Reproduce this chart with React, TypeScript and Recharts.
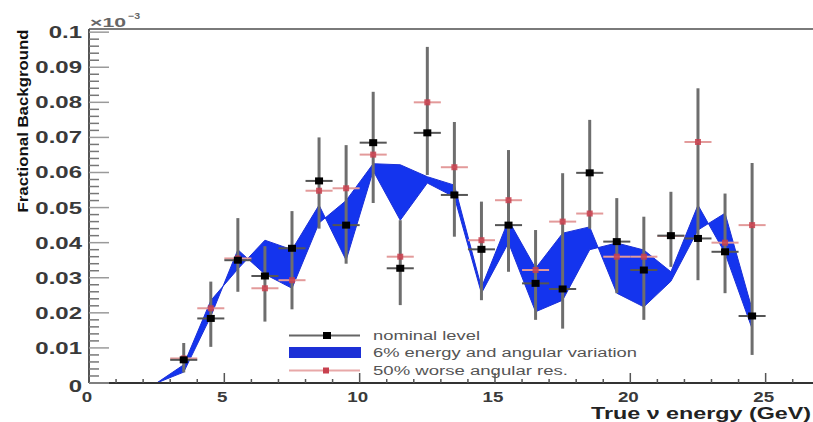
import React from 'react';
import { ComposedChart, Area, Scatter, XAxis, YAxis, ErrorBar, ReferenceLine } from 'recharts';

// ---- data ----
const binCenters = [3.5, 4.5, 5.5, 6.5, 7.5, 8.5, 9.5, 10.5, 11.5, 12.5, 13.5, 14.5, 15.5, 16.5, 17.5, 18.5, 19.5, 20.5, 21.5, 22.5, 23.5, 24.5];
const nominalLevel = [0.0066, 0.0184, 0.035, 0.0305, 0.0384, 0.0576, 0.045, 0.0685, 0.0327, 0.0713, 0.0536, 0.0381, 0.045, 0.0284, 0.0268, 0.0599, 0.0403, 0.0322, 0.042, 0.0412, 0.0374, 0.0191];
const nominalBarLow = [0.003, 0.0103, 0.026, 0.0175, 0.021, 0.044, 0.034, 0.0513, 0.0222, 0.0593, 0.0417, 0.0236, 0.0317, 0.018, 0.0155, 0.044, 0.0256, 0.018, 0.0331, 0.0293, 0.0256, 0.008];
const nominalBarHigh = [0.0114, 0.0289, 0.047, 0.039, 0.049, 0.07, 0.0678, 0.083, 0.0464, 0.0958, 0.0744, 0.0517, 0.0664, 0.0436, 0.0598, 0.075, 0.0527, 0.0474, 0.0545, 0.084, 0.054, 0.0627];
const worseAngularRes = [0.007, 0.0213, 0.0355, 0.027, 0.0293, 0.0548, 0.0555, 0.0651, 0.036, 0.08, 0.0615, 0.0407, 0.0521, 0.0322, 0.046, 0.0483, 0.036, 0.036, 0.0419, 0.0687, 0.04, 0.045];
const bandEnergies = [2.5, 3.5, 4.5, 5.5, 6.5, 7.5, 8.5, 9.5, 10.5, 11.5, 12.5, 13.5, 14.5, 15.5, 16.5, 17.5, 18.5, 19.5, 20.5, 21.5, 22.5, 23.5, 24.5];
const variationA = [0, 0.0031, 0.019, 0.038, 0.031, 0.027, 0.0456, 0.052, 0.0625, 0.0622, 0.0588, 0.0564, 0.0272, 0.0464, 0.0327, 0.0427, 0.0445, 0.0256, 0.0217, 0.029, 0.0436, 0.0484, 0.021];
const variationB = [0, 0.0052, 0.0235, 0.0325, 0.0407, 0.038, 0.0507, 0.035, 0.0605, 0.0464, 0.057, 0.053, 0.0256, 0.04, 0.0203, 0.0236, 0.038, 0.0399, 0.0379, 0.0317, 0.0507, 0.037, 0.0155];
const binHalfWidth = 0.5;

const yMajorTicks = [0, 0.01, 0.02, 0.03, 0.04, 0.05, 0.06, 0.07, 0.08, 0.09, 0.1];
const yTickLabels = ['0', '0.01', '0.02', '0.03', '0.04', '0.05', '0.06', '0.07', '0.08', '0.09', '0.1'];
const xMajorTicks = [0, 5, 10, 15, 20, 25];
const xTickLabels = ['0', '5', '10', '15', '20', '25'];
const Y_MAX = 0.1009;
const X_MAX = 26.75;

// ---- derived tables ----
const bandData = bandEnergies.map((x, i) => ({ x, band: [variationA[i], variationB[i]] }));
const nominalData = binCenters.map((x, i) => ({
  x,
  y: nominalLevel[i],
  ey: [nominalLevel[i] - nominalBarLow[i], nominalBarHigh[i] - nominalLevel[i]],
  ex: binHalfWidth,
}));
const worseData = binCenters.map((x, i) => ({ x, y: worseAngularRes[i], ex: binHalfWidth }));

const yAllTicks: number[] = [];
yMajorTicks.forEach((t, i) => {
  if (i < yMajorTicks.length - 1) {
    for (let k = 0; k < 5; k++) yAllTicks.push(+(t + k * 0.002).toFixed(4));
  } else yAllTicks.push(t);
});
const xAllTicks: number[] = [];
for (let v = 0; v <= 26; v++) xAllTicks.push(v);

const FONT = "'Liberation Sans', Arial, sans-serif";

const YTick = (props: any) => {
  const { x, y, payload } = props;
  const idx = yMajorTicks.findIndex((t) => Math.abs(t - payload.value) < 1e-6);
  const major = idx >= 0;
  return (
    <g>
      <line x1={x} x2={x + (major ? 20 : 10)} y1={y} y2={y} stroke={major ? '#9a9a9a' : '#777'} strokeWidth={1.5} />
      {major && (
        <text
          transform={`translate(${x - 7},${y + (payload.value === 0 ? 9 : 6)}) scale(1.5,1)`}
          textAnchor="end"
          fontFamily={FONT}
          fontWeight="bold"
          fontSize={16}
          fill="#3a3a3a"
        >
          {yTickLabels[idx]}
        </text>
      )}
    </g>
  );
};

const XTick = (props: any) => {
  const { x, y, payload } = props;
  const idx = xMajorTicks.findIndex((t) => Math.abs(t - payload.value) < 1e-6);
  const major = idx >= 0;
  return (
    <g>
      <line x1={x} x2={x} y1={y} y2={y - (major ? 10 : 4)} stroke="#555" strokeWidth={1.5} />
      {major && (
        <text
          transform={`translate(${x - 2},${y + 19}) scale(1.25,1)`}
          textAnchor="middle"
          fontFamily={FONT}
          fontWeight="bold"
          fontSize={15}
          fill="#3a3a3a"
        >
          {xTickLabels[idx]}
        </text>
      )}
    </g>
  );
};

const BlackSquare = (props: any) => {
  const { cx, cy } = props;
  if (cx == null || cy == null) return null;
  return <rect x={cx - 4} y={cy - 3.5} width={8} height={7} fill="#000" />;
};
const RedStar = (props: any) => {
  const { cx, cy } = props;
  if (cx == null || cy == null) return null;
  return <rect x={cx - 3} y={cy - 3} width={6} height={6} fill="#c8404e" opacity={0.85} />;
};
const NoShape = () => null;

export default function App() {
  return (
    <div style={{ position: 'absolute', left: 0, top: 0, width: 813, height: 422, background: '#fff' }}>
      <ComposedChart
        width={813}
        height={422}
        data={bandData}
        margin={{ top: 29, right: 0, bottom: 0, left: 0 }}
      >
        <XAxis
          type="number"
          dataKey="x"
          domain={[0, X_MAX]}
          ticks={xAllTicks}
          interval={0}
          allowDataOverflow
          height={39}
          tickSize={0}
          tickMargin={0}
          tickLine={false}
          axisLine={{ stroke: '#333', strokeWidth: 2 }}
          tick={<XTick />}
        />
        <YAxis
          type="number"
          domain={[0, Y_MAX]}
          ticks={yAllTicks}
          interval={0}
          allowDataOverflow
          width={89}
          tickSize={0}
          tickMargin={0}
          tickLine={false}
          axisLine={{ stroke: '#555', strokeWidth: 2 }}
          tick={<YTick />}
        />
        <ReferenceLine y={Y_MAX} stroke="#7a7a7a" strokeWidth={2} ifOverflow="extendDomain" />
        <Scatter data={nominalData} dataKey="y" shape={<NoShape />} isAnimationActive={false}>
          <ErrorBar dataKey="ey" direction="y" width={0} stroke="#6e6e6e" strokeWidth={3} isAnimationActive={false} />
        </Scatter>
        <Area
          type="linear"
          dataKey="band"
          stroke="#1a30d8"
          strokeWidth={1}
          fill="#1434ee"
          fillOpacity={1}
          isAnimationActive={false}
          dot={false}
          activeDot={false}
        />
        <Scatter data={worseData} dataKey="y" shape={<RedStar />} isAnimationActive={false}>
          <ErrorBar dataKey="ex" direction="x" width={0} stroke="#e39a9a" strokeWidth={2} isAnimationActive={false} />
        </Scatter>
        <Scatter data={nominalData} dataKey="y" shape={<BlackSquare />} isAnimationActive={false}>
          <ErrorBar dataKey="ex" direction="x" width={0} stroke="#555" strokeWidth={2} isAnimationActive={false} />
        </Scatter>
      </ComposedChart>
      <svg
        width={813}
        height={422}
        style={{ position: 'absolute', left: 0, top: 0, pointerEvents: 'none' }}
        fontFamily={FONT}
      >
        <text
          transform="translate(28,121) rotate(-90)"
          textAnchor="middle"
          fontWeight="bold"
          fontSize={15}
          fill="#111"
          textLength={183}
          lengthAdjust="spacingAndGlyphs"
        >
          Fractional Background
        </text>
        <text x={591} y={419} fontWeight="bold" fontSize={16} fill="#222" textLength={220} lengthAdjust="spacingAndGlyphs">
          True ν energy (GeV)
        </text>
        <text x={90} y={27} fontWeight="bold" fontSize={13} fill="#666" textLength={36} lengthAdjust="spacingAndGlyphs">
          ×10
        </text>
        <text x={128} y={19} fontWeight="bold" fontSize={9} fill="#666" textLength={12} lengthAdjust="spacingAndGlyphs">
          −3
        </text>
        {/* legend */}
        <line x1={289} x2={360} y1={335.5} y2={335.5} stroke="#666" strokeWidth={2} />
        <rect x={323} y={332} width={8} height={7} fill="#000" />
        <text x={373} y={339.5} fontSize={12} fill="#555" textLength={107} lengthAdjust="spacingAndGlyphs">
          nominal level
        </text>
        <rect x={289} y={347} width={72} height={11} fill="#1c30d6" />
        <text x={373} y={357} fontSize={12} fill="#555" textLength={264} lengthAdjust="spacingAndGlyphs">
          6% energy and angular variation
        </text>
        <line x1={289} x2={360} y1={370.5} y2={370.5} stroke="#e8a8a8" strokeWidth={2} />
        <rect x={323} y={367.5} width={6} height={6} fill="#c8404e" />
        <text x={373} y={375} fontSize={12} fill="#555" textLength={195} lengthAdjust="spacingAndGlyphs">
          50% worse angular res.
        </text>
      </svg>
    </div>
  );
}
